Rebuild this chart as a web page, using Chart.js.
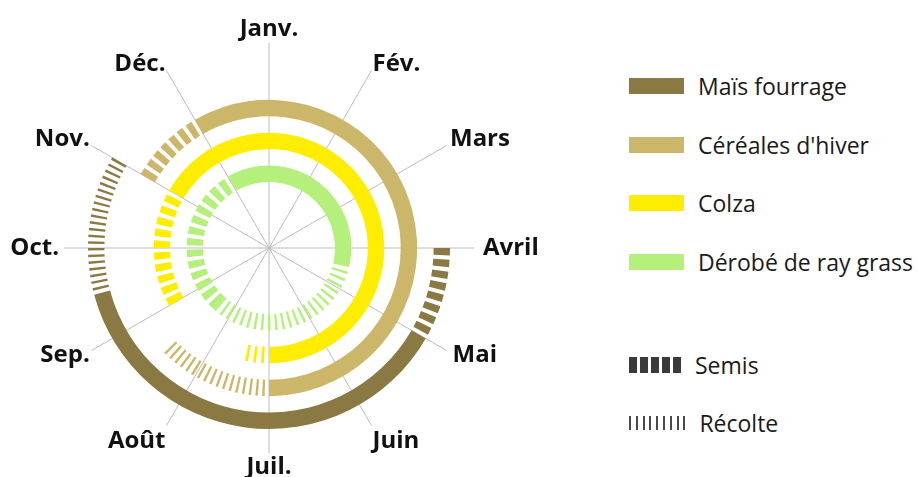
<!DOCTYPE html>
<html>
<head>
<meta charset="utf-8">
<script src="https://cdn.jsdelivr.net/npm/chart.js@4.4.1/dist/chart.umd.min.js"></script>
<style>
  html, body { margin: 0; padding: 0; background: #ffffff; }
  #wrap { position: relative; width: 918px; height: 477px; overflow: hidden; background: #fff; }
  #radarBox { position: absolute; left: -41px; top: 17px; width: 620px; height: 462px; }
  #ringBox { position: absolute; width: 380px; height: 380px; }
  .leg { position: absolute; left: 629px; height: 30px; display: flex; align-items: center;
         font-family: "Open Sans", sans-serif; font-size: 23px; color: #1a1a1a; white-space: nowrap; }
  .sw { width: 55px; height: 16px; margin-right: 14px; flex: none; }
  .icon { display: flex; margin-right: 14px; flex: none; }
</style>
</head>
<body>
<div id="wrap">
  <div id="radarBox"><canvas id="radar"></canvas></div>
  <div id="ringBox"><canvas id="rings"></canvas></div>
  <div id="legend"></div>
</div>
<script>
// ---- data ----
const months = ['Janv.', 'Fév.', 'Mars', 'Avril', 'Mai', 'Juin', 'Juil.', 'Août', 'Sep.', 'Oct.', 'Nov.', 'Déc.'];
const crops = ['Maïs fourrage', "Céréales d'hiver", 'Colza', 'Dérobé de ray grass'];
// positions in months (0 = Janv. spoke, 12 = one full turn), read clockwise
const semisStart  = [3.0, 10.0, 8.0, 7.4];
const semisEnd    = [4.0, 11.0, 10.0, 11.0];
const cultureEnd  = [8.5, 18.0, 18.0, 15.45];
const recolteEnd  = [10.0, 19.5, 18.4, 19.4];
const phaseNames  = ['Semis', 'Récolte'];

// ---- styles ----
const cropColors = ['#8a7943', '#cbb66a', '#ffed00', '#b5ef7c'];
const EMPTY = 'rgba(0,0,0,0)';
const OUTER_R = 181, INNER_R = 66;
const SEMIS_DASH = { on: 7, off: 4 };
const RECOLTE_DASH = { on: 2.4, off: 4.2 };
const nBands = crops.length * 2 - 1;
const band = (OUTER_R - INNER_R) / nBands;
// month label placement tweaks (padding from spoke end, label box height in px)
const labelPad = [2, 2, 4, 9, 7, 2, 2, 2, 2, 5, 2, 2];
const labelBox = [24, 10, 8, 24, 3, 28, 24, 28, 8, 24, 10, 10];

function dashes(a, b, rMid, style, color, gapFirst, out) {
  const L = (b - a) * Math.PI / 6 * rMid;
  const n = Math.max(1, Math.round(L / (style.on + style.off)));
  const p = (b - a) / n;
  const on = p * style.on / (style.on + style.off);
  for (let i = 0; i < n; i++) {
    if (gapFirst) { out.push([p - on, EMPTY]); out.push([on, color]); }
    else { out.push([on, color]); out.push([p - on, EMPTY]); }
  }
}

const datasets = [];
crops.forEach((name, i) => {
  const rMid = OUTER_R - band * (2 * i) - band / 2;
  const segs = [];
  dashes(semisStart[i], semisEnd[i], rMid, SEMIS_DASH, cropColors[i], false, segs);
  segs.push([cultureEnd[i] - semisEnd[i], cropColors[i]]);
  dashes(cultureEnd[i], recolteEnd[i], rMid, RECOLTE_DASH, cropColors[i], true, segs);
  const rest = semisStart[i] + 12 - recolteEnd[i];
  if (rest > 0.0001) segs.push([rest, EMPTY]);
  datasets.push({
    label: name,
    data: segs.map(s => s[0]),
    backgroundColor: segs.map(s => s[1]),
    borderWidth: 0,
    rotation: semisStart[i] * 30,
    weight: 1
  });
  if (i < crops.length - 1) {
    datasets.push({ label: '', data: [1], backgroundColor: [EMPTY], borderWidth: 0, weight: 1 });
  }
});

// ---- month spokes & labels (radial scale) ----
const radar = new Chart(document.getElementById('radar'), {
  type: 'radar',
  data: { labels: months, datasets: [{ data: [], pointRadius: 0, borderWidth: 0 }] },
  options: {
    responsive: true, maintainAspectRatio: false, animation: false,
    plugins: { legend: { display: false }, tooltip: { enabled: false } },
    layout: { padding: 0 },
    scales: {
      r: {
        min: 0, max: 1,
        grid: { display: false },
        angleLines: { display: true, color: '#bcbcbc', lineWidth: 1 },
        ticks: { display: false },
        pointLabels: {
          display: true, color: '#111',
          padding: (ctx) => labelPad[ctx.index],
          font: (ctx) => ({ family: 'Open Sans', weight: 'bold', size: 24, lineHeight: labelBox[ctx.index] / 24 })
        }
      }
    }
  }
});

// ---- rings ----
const sc = radar.scales.r;
const box = document.getElementById('ringBox');
const rb = document.getElementById('radarBox');
box.style.left = (rb.offsetLeft + sc.xCenter - 190) + 'px';
box.style.top = (rb.offsetTop + sc.yCenter - 190) + 'px';
new Chart(document.getElementById('rings'), {
  type: 'doughnut',
  data: { labels: [], datasets: datasets },
  options: {
    responsive: true, maintainAspectRatio: false, animation: false,
    radius: OUTER_R, cutout: (INNER_R / OUTER_R * 100) + '%',
    layout: { padding: 0 },
    events: [],
    plugins: { legend: { display: false }, tooltip: { enabled: false } }
  }
});

// ---- legend ----
const leg = document.getElementById('legend');
const legTops = [86, 144.5, 203, 262];
crops.forEach((name, i) => {
  const d = document.createElement('div');
  d.className = 'leg';
  d.style.top = (legTops[i] - 15) + 'px';
  d.innerHTML = '<span class="sw" style="background:' + cropColors[i] + '"></span><span></span>';
  d.lastChild.textContent = name;
  leg.appendChild(d);
});
function iconRow(n, w, gap, h, col) {
  let s = '<span class="icon" style="height:' + h + 'px">';
  for (let k = 0; k < n; k++) s += '<span style="width:' + w + 'px;height:' + h + 'px;background:' + col + ';margin-right:' + (k < n - 1 ? gap : 0) + 'px"></span>';
  return s + '</span>';
}
[[365, iconRow(5, 8, 3, 16, '#3a3a3a')], [423, iconRow(9, 2, 4.8, 14, '#4a4a4a')]].forEach((it, k) => {
  const d = document.createElement('div');
  d.className = 'leg';
  d.style.top = (it[0] - 15) + 'px';
  d.innerHTML = it[1] + '<span></span>';
  d.lastChild.textContent = phaseNames[k];
  leg.appendChild(d);
});
</script>
</body>
</html>
